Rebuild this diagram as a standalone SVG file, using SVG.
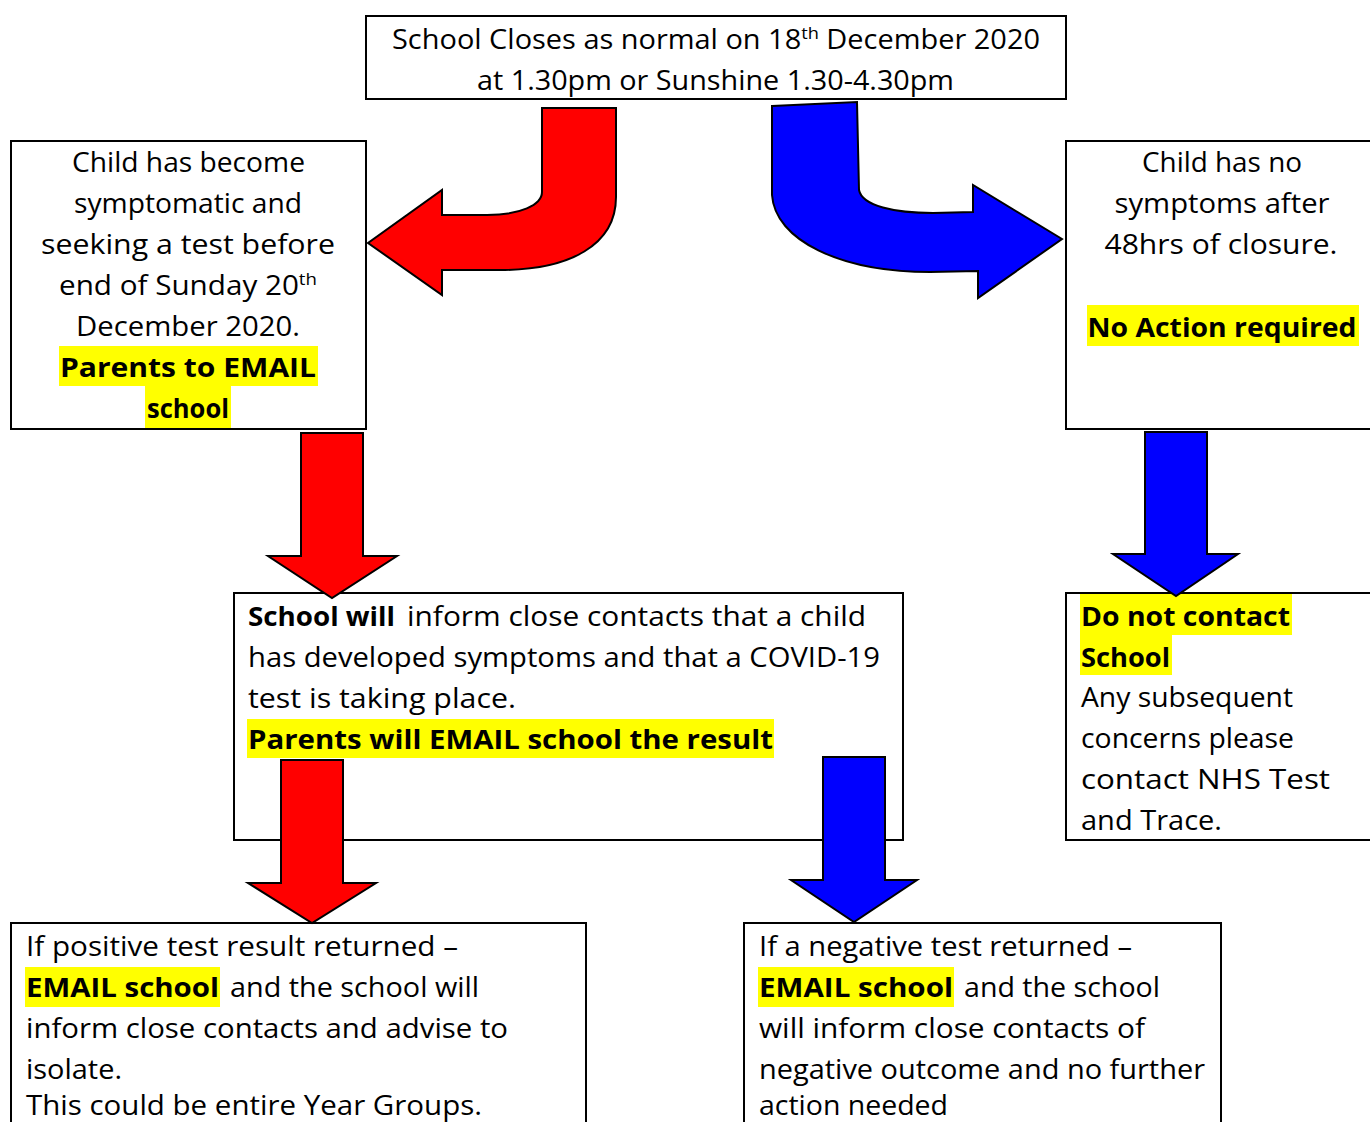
<svg xmlns="http://www.w3.org/2000/svg" width="1370" height="1122" viewBox="0 0 1370 1122">
<style>
.box{fill:#fff;stroke:#000;stroke-width:2}
.hl{fill:#ffff00}
text{font-family:"Open Sans","DejaVu Sans",sans-serif;font-size:27px;fill:#000}
.b{font-weight:700}
.c{text-anchor:middle}
.red{fill:#ff0000;stroke:#000;stroke-width:2;stroke-linejoin:miter}
.blue{fill:#0000ff;stroke:#000;stroke-width:2;stroke-linejoin:miter}
</style>
<rect width="1370" height="1122" fill="#fff"/>

<g id="node-top">
<rect class="box" x="366" y="16" width="700" height="83"/>
<text x="392" y="49" textLength="648" lengthAdjust="spacingAndGlyphs">School Closes as normal on 18<tspan font-size="17" dy="-10">th</tspan><tspan dy="10"> December 2020</tspan></text>
<text x="477" y="90" textLength="477" lengthAdjust="spacingAndGlyphs">at 1.30pm or Sunshine 1.30-4.30pm</text>
</g>

<g id="node-symptomatic">
<rect class="box" x="11" y="141" width="355" height="288"/>
<rect class="hl" x="59" y="346" width="259" height="40"/>
<rect class="hl" x="145" y="386" width="86" height="42"/>
<text class="c" x="188.5" y="172" textLength="233" lengthAdjust="spacingAndGlyphs">Child has become</text>
<text class="c" x="188" y="213" textLength="228" lengthAdjust="spacingAndGlyphs">symptomatic and</text>
<text class="c" x="188" y="254" textLength="294" lengthAdjust="spacingAndGlyphs">seeking a test before</text>
<text x="59" y="295" textLength="258" lengthAdjust="spacingAndGlyphs">end of Sunday 20<tspan font-size="17" dy="-10">th</tspan></text>
<text class="c" x="188" y="336" textLength="224" lengthAdjust="spacingAndGlyphs">December 2020.</text>
<text class="c b" x="188" y="377" textLength="256" lengthAdjust="spacingAndGlyphs">Parents to EMAIL</text>
<text class="c b" x="188" y="418" textLength="82" lengthAdjust="spacingAndGlyphs">school</text>
</g>

<g id="node-nosymptoms">
<rect class="box" x="1066" y="141" width="320" height="288"/>
<rect class="hl" x="1087" y="305" width="272" height="41"/>
<text class="c" x="1222" y="172" textLength="160" lengthAdjust="spacingAndGlyphs">Child has no</text>
<text class="c" x="1222" y="213" textLength="215" lengthAdjust="spacingAndGlyphs">symptoms after</text>
<text class="c" x="1221" y="254" textLength="233" lengthAdjust="spacingAndGlyphs">48hrs of closure.</text>
<text class="c b" x="1222" y="337" textLength="269" lengthAdjust="spacingAndGlyphs">No Action required</text>
</g>

<g id="node-inform">
<rect class="box" x="234" y="593" width="669" height="247"/>
<rect class="hl" x="247" y="719" width="527" height="39"/>
<text class="b" x="248" y="626" textLength="147" lengthAdjust="spacingAndGlyphs">School will</text>
<text x="407" y="626" textLength="459" lengthAdjust="spacingAndGlyphs">inform close contacts that a child</text>
<text x="248" y="667" textLength="632" lengthAdjust="spacingAndGlyphs">has developed symptoms and that a COVID-19</text>
<text x="248" y="708" textLength="268" lengthAdjust="spacingAndGlyphs">test is taking place.</text>
<text class="b" x="248" y="749" textLength="525" lengthAdjust="spacingAndGlyphs">Parents will EMAIL school the result</text>
</g>

<g id="node-donotcontact">
<rect class="box" x="1066" y="593" width="320" height="247"/>
<rect class="hl" x="1080" y="594" width="212" height="41"/>
<rect class="hl" x="1080" y="635" width="92" height="40"/>
<text class="b" x="1081" y="626" textLength="209" lengthAdjust="spacingAndGlyphs">Do not contact</text>
<text class="b" x="1081" y="667" textLength="89" lengthAdjust="spacingAndGlyphs">School</text>
<text x="1081" y="707" textLength="212" lengthAdjust="spacingAndGlyphs">Any subsequent</text>
<text x="1081" y="748" textLength="213" lengthAdjust="spacingAndGlyphs">concerns please</text>
<text x="1081" y="789" textLength="249" lengthAdjust="spacingAndGlyphs">contact NHS Test</text>
<text x="1081" y="830" textLength="141" lengthAdjust="spacingAndGlyphs">and Trace.</text>
</g>

<g id="node-positive">
<rect class="box" x="11" y="923" width="575" height="210"/>
<rect class="hl" x="25" y="967" width="195" height="40"/>
<text x="26" y="956" textLength="432" lengthAdjust="spacingAndGlyphs">If positive test result returned –</text>
<text class="b" x="26" y="997" textLength="193" lengthAdjust="spacingAndGlyphs">EMAIL school</text>
<text x="230" y="997" textLength="249" lengthAdjust="spacingAndGlyphs">and the school will</text>
<text x="26" y="1038" textLength="482" lengthAdjust="spacingAndGlyphs">inform close contacts and advise to</text>
<text x="26" y="1079" textLength="96" lengthAdjust="spacingAndGlyphs">isolate.</text>
<text x="26" y="1115" textLength="456" lengthAdjust="spacingAndGlyphs">This could be entire Year Groups.</text>
</g>

<g id="node-negative">
<rect class="box" x="744" y="923" width="477" height="210"/>
<rect class="hl" x="758" y="967" width="196" height="40"/>
<text x="759" y="956" textLength="373" lengthAdjust="spacingAndGlyphs">If a negative test returned –</text>
<text class="b" x="759" y="997" textLength="194" lengthAdjust="spacingAndGlyphs">EMAIL school</text>
<text x="964" y="997" textLength="196" lengthAdjust="spacingAndGlyphs">and the school</text>
<text x="759" y="1038" textLength="386" lengthAdjust="spacingAndGlyphs">will inform close contacts of</text>
<text x="759" y="1079" textLength="446" lengthAdjust="spacingAndGlyphs">negative outcome and no further</text>
<text x="759" y="1115" textLength="189" lengthAdjust="spacingAndGlyphs">action needed</text>
</g>

<g id="connectors">
<path class="red" d="M 542 108 L 616 108 L 616 197 C 616 245 570 270 500 270 L 442 270 L 442 295 L 368 243 L 442 190 L 442 215 L 487 215 C 520 215 542 205 542 192 Z"/>
<path class="blue" d="M 772 106 L 857 102 L 859 190 C 862 206 895 213 933 213 L 973 212 L 973 185 L 1062 239 L 978 298 L 978 271 L 930 272 C 840 272 775 240 772 195 Z"/>
<path class="red" d="M 301 433 L 363 433 L 363 556 L 397 556 L 332 598 L 268 556 L 301 556 Z"/>
<path class="blue" d="M 1145 432 L 1207 432 L 1207 554 L 1238 554 L 1176 596 L 1113 554 L 1145 554 Z"/>
<path class="red" d="M 281 760 L 343 760 L 343 883 L 376 883 L 312 923 L 248 883 L 281 883 Z"/>
<path class="blue" d="M 823 757 L 885 757 L 885 880 L 917 880 L 854 922 L 791 880 L 823 880 Z"/>
</g>
</svg>
